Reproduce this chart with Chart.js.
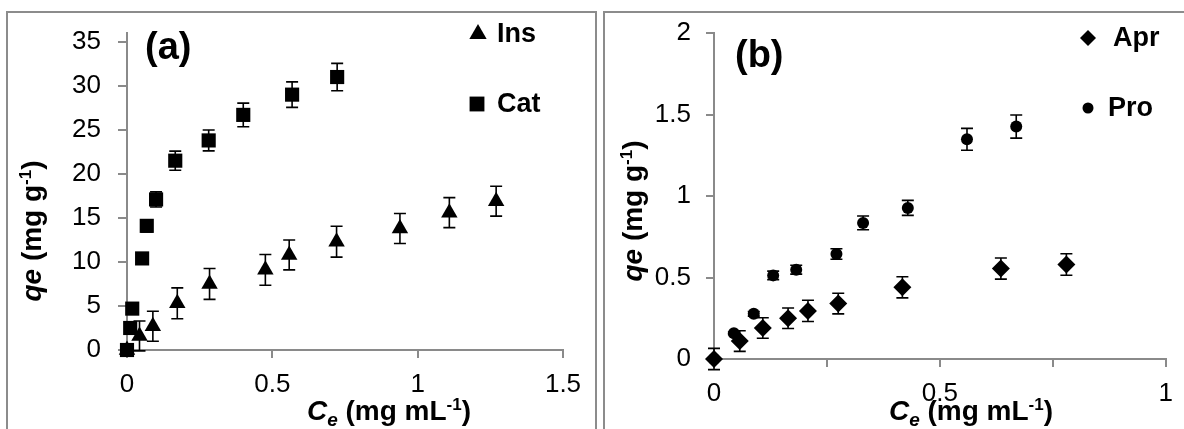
<!DOCTYPE html>
<html><head><meta charset="utf-8">
<script src="https://cdn.jsdelivr.net/npm/chart.js@4.4.0/dist/chart.umd.min.js"></script>
<style>
html,body{margin:0;padding:0;background:#fff;overflow:hidden;width:1184px;height:429px}
.frame{position:absolute;border:2px solid #8c8c8c;box-sizing:border-box}
#fa{left:6px;top:11px;width:591px;height:470px}
#fb{left:603px;top:11px;width:620px;height:470px}
.wrap{position:absolute;top:0;height:429px}
#wa{left:0;width:600px}
#wb{left:600px;width:584px}
</style></head><body>
<div class="frame" id="fa"></div><div class="frame" id="fb"></div>
<div class="wrap" id="wa"><canvas id="ca"></canvas></div>
<div class="wrap" id="wb"><canvas id="cb"></canvas></div>
<script>
// ---- Data ----
const insX = [0, 0.043, 0.089, 0.173, 0.284, 0.476, 0.558, 0.721, 0.939, 1.109, 1.27];
const insY = [0, 1.6, 2.7, 5.3, 7.5, 9.1, 10.8, 12.3, 13.8, 15.6, 16.9];
const insErr = [0, 1.7, 1.7, 1.75, 1.75, 1.75, 1.7, 1.75, 1.7, 1.7, 1.7];

const catX = [0, 0.011, 0.018, 0.052, 0.068, 0.10, 0.166, 0.281, 0.40, 0.568, 0.723];
const catY = [0, 2.5, 4.7, 10.4, 14.1, 17.1, 21.5, 23.8, 26.7, 29.0, 31.0];
const catErr = [0, 0.13, 0.24, 0.52, 0.7, 0.86, 1.08, 1.19, 1.34, 1.45, 1.55];

const aprX = [0, 0.057, 0.108, 0.164, 0.208, 0.275, 0.417, 0.635, 0.78];
const aprY = [0, 0.11, 0.19, 0.25, 0.295, 0.34, 0.44, 0.555, 0.58];
const aprErr = [0.065, 0.063, 0.063, 0.063, 0.065, 0.063, 0.065, 0.065, 0.066];

const proX = [0, 0.044, 0.088, 0.131, 0.182, 0.271, 0.33, 0.429, 0.56, 0.669];
const proY = [0, 0.158, 0.277, 0.513, 0.548, 0.644, 0.835, 0.927, 1.348, 1.426];
const proErr = [0, 0.008, 0.014, 0.026, 0.027, 0.032, 0.042, 0.046, 0.067, 0.071];

const seriesNamesA = ['Ins', 'Cat'];
const seriesNamesB = ['Apr', 'Pro'];
const yTicksA = [0, 5, 10, 15, 20, 25, 30, 35];
const xLabelsB = [0, 0.5, 1];

const FF = '"Liberation Sans", Arial, sans-serif';
const pts = (xs, ys) => xs.map((x, i) => ({x: x, y: ys[i]}));

function drawMarker(ctx, style, r, x, y) {
  ctx.save(); ctx.fillStyle = '#000'; ctx.beginPath();
  if (style === 'triangle') {
    ctx.moveTo(x, y - r); ctx.lineTo(x + r * 0.866, y + r / 2); ctx.lineTo(x - r * 0.866, y + r / 2);
  } else if (style === 'rect') {
    const s = r * Math.SQRT1_2; ctx.rect(x - s, y - s, 2 * s, 2 * s);
  } else if (style === 'rectRot') {
    ctx.moveTo(x - r, y); ctx.lineTo(x, y - r); ctx.lineTo(x + r, y); ctx.lineTo(x, y + r);
  } else {
    ctx.arc(x, y, r, 0, Math.PI * 2);
  }
  ctx.closePath(); ctx.fill(); ctx.restore();
}

function drawRuns(ctx, runs, x, y) {
  let total = 0;
  runs.forEach(r => { ctx.font = r.font; total += ctx.measureText(r.t).width; });
  let cx = x - total / 2;
  runs.forEach(r => { ctx.font = r.font; ctx.fillText(r.t, cx, y + (r.dy || 0)); cx += ctx.measureText(r.t).width; });
}

const b28 = 'bold 28px ' + FF, bi28 = 'italic bold 28px ' + FF;
const b17 = 'bold 17px ' + FF, bi19 = 'italic bold 19px ' + FF;
const xTitleRuns = [{t: 'C', font: bi28}, {t: 'e', font: bi19, dy: 6}, {t: ' (mg mL', font: b28}, {t: '-1', font: b17, dy: -10}, {t: ')', font: b28}];
const yTitleRuns = [{t: 'qe', font: bi28}, {t: ' (mg g', font: b28}, {t: '-1', font: b17, dy: -10}, {t: ')', font: b28}];

const errorBars = {
  id: 'errorBars',
  afterDatasetsDraw(chart) {
    const ctx = chart.ctx, xs = chart.scales.x, ys = chart.scales.y;
    chart.data.datasets.forEach(ds => {
      if (!ds.errors) return;
      ctx.save(); ctx.strokeStyle = '#000'; ctx.lineWidth = 1.6;
      ds.data.forEach((p, j) => {
        const e = ds.errors[j]; if (!e) return;
        const px = xs.getPixelForValue(p.x);
        const y1 = ys.getPixelForValue(p.y + e), y2 = ys.getPixelForValue(p.y - e);
        ctx.beginPath();
        ctx.moveTo(px, y1); ctx.lineTo(px, y2);
        ctx.moveTo(px - 6, y1); ctx.lineTo(px + 6, y1);
        ctx.moveTo(px - 6, y2); ctx.lineTo(px + 6, y2);
        ctx.stroke();
      });
      ctx.restore();
    });
  }
};

const decor = {
  id: 'decor',
  afterDraw(chart, args, o) {
    const ctx = chart.ctx;
    ctx.save(); ctx.fillStyle = '#000'; ctx.textAlign = 'left'; ctx.textBaseline = 'alphabetic';
    ctx.font = 'bold 38px ' + FF; ctx.fillText(o.title, o.titleX, o.titleY);
    drawRuns(ctx, xTitleRuns, o.xtX, o.xtY);
    ctx.save(); ctx.translate(o.ytX, o.ytY); ctx.rotate(-Math.PI / 2);
    drawRuns(ctx, yTitleRuns, 0, 0); ctx.restore();
    o.legend.forEach(l => {
      drawMarker(ctx, l.style, l.r, l.mx, l.my);
      ctx.font = 'bold 27px ' + FF; ctx.textBaseline = 'middle';
      ctx.fillText(l.text, l.tx, l.my + 1);
      ctx.textBaseline = 'alphabetic';
    });
    ctx.restore();
  }
};

function axisCommon() {
  return {
    type: 'linear',
    grid: {display: true, drawOnChartArea: false, drawTicks: true, tickLength: 8, color: '#8a8a8a', lineWidth: 2},
    border: {display: true, color: '#8a8a8a', width: 2},
    ticks: {color: '#000', font: {family: FF, size: 26}, autoSkip: false, maxRotation: 0,
      callback: v => String(v)}
  };
}

// ---- Panel (a) ----
const xa = axisCommon();
Object.assign(xa, {min: 0, max: 1.5, afterFit: s => { s.height = 79; }});
xa.ticks.stepSize = 0.5; xa.ticks.padding = 11;
const ya = axisCommon();
Object.assign(ya, {min: 0, max: 36, afterFit: s => { s.width = 127; },
  afterBuildTicks: s => { s.ticks = yTicksA.map(v => ({value: v})); }});
ya.ticks.stepSize = 5; ya.ticks.padding = 17; ya.grid.tickLength = 9;

new Chart(document.getElementById('ca'), {
  type: 'scatter',
  data: {datasets: [
    {label: seriesNamesA[0], data: pts(insX, insY), errors: insErr, pointStyle: 'triangle', pointRadius: 9.5, backgroundColor: '#000', borderColor: '#000', borderWidth: 0, clip: false},
    {label: seriesNamesA[1], data: pts(catX, catY), errors: catErr, pointStyle: 'rect', pointRadius: 10, backgroundColor: '#000', borderColor: '#000', borderWidth: 0, clip: false}
  ]},
  options: {
    responsive: true, maintainAspectRatio: false, animation: false, events: [],
    layout: {padding: {left: 0, right: 37, top: 33, bottom: 0}},
    scales: {x: xa, y: ya},
    plugins: {legend: {display: false}, tooltip: {enabled: false},
      decor: {title: '(a)', titleX: 145, titleY: 59, xtX: 389, xtY: 420, ytX: 41, ytY: 231,
        legend: [
          {style: 'triangle', r: 10, mx: 478, my: 34, text: seriesNamesA[0], tx: 497},
          {style: 'rect', r: 10.5, mx: 477, my: 104, text: seriesNamesA[1], tx: 497}
        ]}}
  },
  plugins: [errorBars, decor]
});

// ---- Panel (b) ----
const xb = axisCommon();
Object.assign(xb, {min: 0, max: 1, afterFit: s => { s.height = 70; }});
xb.ticks.stepSize = 0.25; xb.ticks.padding = 11;
xb.ticks.callback = v => (xLabelsB.indexOf(v) >= 0 ? String(v) : '');
const yb = axisCommon();
Object.assign(yb, {min: 0, max: 2, afterFit: s => { s.width = 114; }});
yb.ticks.stepSize = 0.5; yb.ticks.padding = 15;

new Chart(document.getElementById('cb'), {
  type: 'scatter',
  data: {datasets: [
    {label: seriesNamesB[0], data: pts(aprX, aprY), errors: aprErr, pointStyle: 'rectRot', pointRadius: 9, backgroundColor: '#000', borderColor: '#000', borderWidth: 0, clip: false},
    {label: seriesNamesB[1], data: pts(proX, proY), errors: proErr, pointStyle: 'circle', pointRadius: 6, backgroundColor: '#000', borderColor: '#000', borderWidth: 0, clip: false}
  ]},
  options: {
    responsive: true, maintainAspectRatio: false, animation: false, events: [],
    layout: {padding: {left: 0, right: 12, top: 33, bottom: 0}},
    scales: {x: xb, y: yb},
    plugins: {legend: {display: false}, tooltip: {enabled: false},
      decor: {title: '(b)', titleX: 135, titleY: 67, xtX: 371, xtY: 420, ytX: 42, ytY: 211,
        legend: [
          {style: 'rectRot', r: 8, mx: 488, my: 38, text: seriesNamesB[0], tx: 513},
          {style: 'circle', r: 5.5, mx: 488, my: 108, text: seriesNamesB[1], tx: 508}
        ]}}
  },
  plugins: [errorBars, decor]
});
</script>
</body></html>
